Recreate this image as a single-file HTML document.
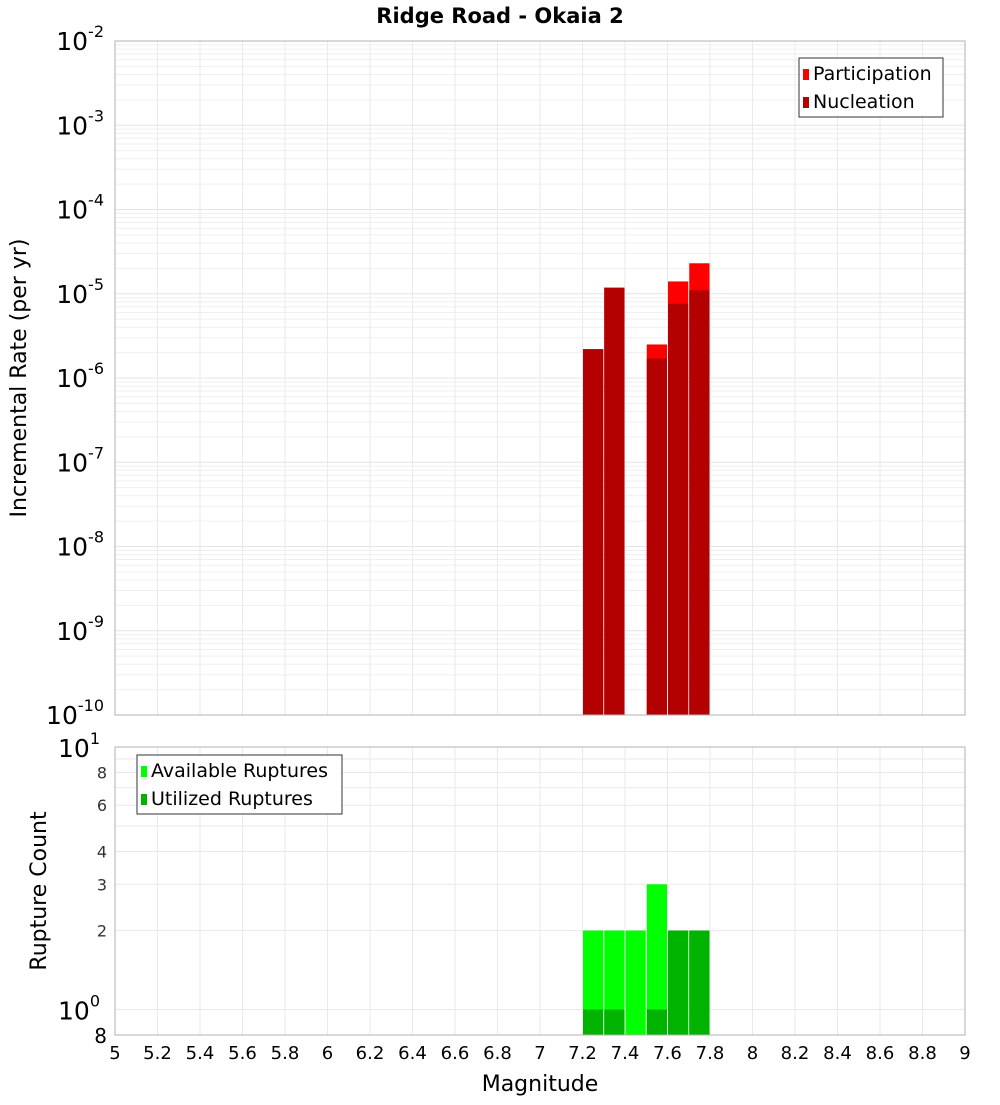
<!DOCTYPE html>
<html><head><meta charset="utf-8"><style>
body{margin:0;background:#fff}
svg text{font-family:"DejaVu Sans","Liberation Sans",sans-serif}
</style></head><body>
<svg id="c" width="1000" height="1100" xmlns="http://www.w3.org/2000/svg">
<text x="500" y="23" text-anchor="middle" font-size="21" font-weight="bold">Ridge Road - Okaia 2</text>
<g id="g"></g>
</svg>
<script>
const mags=[7.25,7.35,7.45,7.55,7.65,7.75];
const participation=[2.2e-6,1.18e-5,0,2.5e-6,1.4e-5,2.3e-5];
const nucleation=[2.2e-6,1.18e-5,0,1.7e-6,7.6e-6,1.1e-5];
const available=[2,2,2,3,2,2];
const utilized=[1,1,0,1,2,2];
const xTicks=[5,5.2,5.4,5.6,5.8,6,6.2,6.4,6.6,6.8,7,7.2,7.4,7.6,7.8,8,8.2,8.4,8.6,8.8,9];
const topExps=[-2,-3,-4,-5,-6,-7,-8,-9,-10];
const botTicks=[8,6,4,3,2];

const NS="http://www.w3.org/2000/svg";
const g=document.getElementById('g');
function el(t,a,p){const e=document.createElementNS(NS,t);for(const k in a)e.setAttribute(k,a[k]);(p||g).appendChild(e);return e;}
const L=115,R=965,T1=41,B1=715,T2=747,B2=1035;
const x=v=>L+(v-5)/(9-5)*(R-L);
const y1=v=>T1+(-2-Math.log10(v))/8*(B1-T1);
const y2=v=>T2+(1-Math.log10(v))/(1-Math.log10(0.8))*(B2-T2);

for(let e=-10;e<-2;e++)for(let m=1;m<10;m++){const yy=y1(m*Math.pow(10,e));
 const l=el('line',{x1:L,x2:R,y1:yy,y2:yy,stroke:m==1?'#e4e4e4':'#efefef','stroke-width':1});
 }
for(let v=1;v<=10;v++){const yy=y2(v);const l=el('line',{x1:L,x2:R,y1:yy,y2:yy,stroke:'#eaeaea'});
 }
xTicks.forEach(t=>{[[T1,B1],[T2,B2]].forEach(([a,b])=>{const l=el('line',{x1:x(t),x2:x(t),y1:a,y2:b,stroke:'#eaeaea'});
 });});

const bw=(x(0.1+5)-x(5));
mags.forEach((m,i)=>{
 if(participation[i]>0){const r=el('rect',{x:x(m)-bw/2+0.5,y:y1(participation[i]),width:bw-1,height:B1-y1(participation[i]),fill:'#ff0000'});
  }
 if(nucleation[i]>0){const r=el('rect',{x:x(m)-bw/2+0.5,y:y1(nucleation[i]),width:bw-1,height:B1-y1(nucleation[i]),fill:'#b30000'});
  }
});
mags.forEach((m,i)=>{
 if(available[i]>0){const r=el('rect',{x:x(m)-bw/2+0.5,y:y2(available[i]),width:bw-1,height:B2-y2(available[i]),fill:'#00ff00'});
  }
 if(utilized[i]>0){const r=el('rect',{x:x(m)-bw/2+0.5,y:y2(utilized[i]),width:bw-1,height:B2-y2(utilized[i]),fill:'#00b300'});
  }
});
[[T1,B1],[T2,B2]].forEach(([a,b])=>{const r=el('rect',{x:L,y:a,width:R-L,height:b-a,fill:'none',stroke:'#b0b0b0'});
 });
topExps.forEach(e=>{const t=el('text',{x:104,y:y1(Math.pow(10,e))+9,'text-anchor':'end','font-size':25});
 
 t.textContent='10';const s=el('tspan',{dy:-13,'font-size':16},t);s.textContent=String(e);});
[[10,'1'],[1,'0']].forEach(([v,e])=>{const t=el('text',{x:100,y:y2(v)+10,'text-anchor':'end','font-size':25});
 
 t.textContent='10';const s=el('tspan',{dy:-13,'font-size':16},t);s.textContent=e;});
botTicks.forEach(v=>{const t=el('text',{x:107,y:y2(v)+6,'text-anchor':'end','font-size':16,fill:'#333'});
 t.textContent=v;});
{const t=el('text',{x:107,y:B2+8,'text-anchor':'end','font-size':20});t.textContent='8';}
xTicks.forEach(v=>{const t=el('text',{x:x(v),y:1059,'text-anchor':'middle','font-size':18});
 t.textContent=String(v);});
{let t=el('text',{x:540,y:1091,'text-anchor':'middle','font-size':22});t.textContent='Magnitude';
 t=el('text',{x:0,y:0,'text-anchor':'middle','font-size':22,transform:'translate(26,378) rotate(-90)'});t.textContent='Incremental Rate (per yr)';
 t=el('text',{x:0,y:0,'text-anchor':'middle','font-size':22,transform:'translate(46,891) rotate(-90)'});t.textContent='Rupture Count';}
function legend(x0,y0,w,items,name){const gg=el('g',{});
 el('rect',{x:x0,y:y0,width:w,height:59,fill:'#fff',stroke:'#333'},gg);
 items.forEach(([c,s],i)=>{el('rect',{x:x0+4,y:y0+11+i*28,width:6,height:11,fill:c},gg);
  const t=el('text',{x:x0+14,y:y0+22+i*28,'font-size':19},gg);t.textContent=s;});}
legend(799,58,144,[['#ff0000','Participation'],['#b30000','Nucleation']],'legend-rate');
legend(137,755,205,[['#00ff00','Available Ruptures'],['#00b300','Utilized Ruptures']],'legend-count');
</script>
</body></html>
